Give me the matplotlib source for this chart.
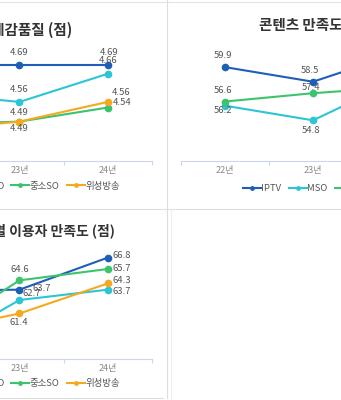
import matplotlib
matplotlib.use("Agg")
import matplotlib.pyplot as plt

plt.rcParams["font.family"] = ["Noto Sans CJK KR", "DejaVu Sans"]

W, H = 341, 400

categories = ["22년", "23년", "24년"]

# 방송서비스 체감품질 (점)
quality_iptv = [4.69, 4.69, 4.69]
quality_mso = [4.59, 4.56, 4.66]
quality_small_so = [4.48, 4.49, 4.54]
quality_sat = [4.46, 4.49, 4.56]

# 콘텐츠 만족도
content_iptv = [59.9, 58.5, 61.3]
content_mso = [56.2, 54.8, 58.8]
content_small_so = [56.6, 57.4, 58.0]

# 이용자 만족도 (점)
satis_iptv = [63.6, 63.7, 66.8]
satis_mso = [57.8, 62.7, 63.7]
satis_small_so = [59.1, 64.6, 65.7]
satis_sat = [59.6, 61.4, 64.3]

COLORS = {
    "IPTV": "#1f5eb8",
    "MSO": "#2cc5d5",
    "중소SO": "#3cc46c",
    "위성방송": "#f6a91f",
}

# label offsets in pixels (dx, dy screen-down, ha) per point
OFFS_QUALITY = {
    "IPTV": [(0, -13, "center"), (0, -13, "center"), (1, -13, "center")],
    "MSO": [(0, -12, "center"), (0, -12, "center"), (0, -13, "center")],
    "중소SO": [(0, 8, "center"), (0, 7, "center"), (5, -5, "left")],
    "위성방송": [(0, -10, "center"), (0, -9, "center"), (13, -9, "center")],
}
OFFS_CONTENT = {
    "IPTV": [(-2, -12, "center"), (-3, -11, "center"), (0, -12, "center")],
    "MSO": [(-2, 5, "center"), (-2, 10, "center"), (0, 10, "center")],
    "중소SO": [(-2, -11, "center"), (-2, -6, "center"), (0, -10, "center")],
}
OFFS_SATIS = {
    "IPTV": [(0, -11, "center"), (13, -1, "left"), (5, -2, "left")],
    "MSO": [(0, 9, "center"), (3, -7, "left"), (5, 2, "left")],
    "중소SO": [(0, -11, "center"), (0, -11, "center"), (5, 0, "left")],
    "위성방송": [(0, 9, "center"), (-1, 9, "center"), (5, -3, "left")],
}


def px_axes(fig, left, top, right, bottom):
    return fig.add_axes([left / W, 1 - bottom / H, (right - left) / W, (bottom - top) / H])


def draw_panel(ax, series, offsets, ylim, legend_y):
    x = range(len(categories))
    for name, vals in series:
        ax.plot(x, vals, color=COLORS[name], lw=1.5, marker="o", ms=4.5,
                label=name, clip_on=False, zorder=3)
        for i, v in enumerate(vals):
            dx, dy, ha = offsets[name][i]
            ax.annotate(f"{v:.2f}" if v < 10 else f"{v:.1f}", (i, v),
                        xytext=(dx, -dy), textcoords="offset pixels",
                        ha=ha, va="center", fontsize=6.8, color="#555555",
                        zorder=4, annotation_clip=False)
    ax.set_xlim(-0.5, 2.5)
    ax.set_ylim(*ylim)
    ax.set_facecolor("none")
    for s in ("left", "right", "top"):
        ax.spines[s].set_visible(False)
    ax.spines["bottom"].set_color("#ccd6eb")
    ax.spines["bottom"].set_linewidth(0.8)
    ax.set_yticks([])
    ax.set_xticks(list(x))
    ax.set_xticklabels(categories, fontsize=6.5, color="#888888")
    ax.tick_params(axis="x", which="major", length=0, pad=3.5)
    ax.set_xticks([-0.5, 0.5, 1.5, 2.5], minor=True)
    ax.tick_params(axis="x", which="minor", length=3, color="#ccd6eb", width=0.8)
    ax.legend(loc="center", bbox_to_anchor=(0.5, legend_y), ncol=len(series),
              frameon=False, fontsize=6.8, handlelength=1.9, handletextpad=0.1,
              columnspacing=0.75, markerscale=0.55, labelcolor="#555555")


fig = plt.figure(figsize=(W / 100, H / 100), dpi=100)

# card borders
bg = fig.add_axes([0, 0, 1, 1], zorder=-1)
bg.set_xlim(0, W)
bg.set_ylim(H, 0)
bg.axis("off")
bg.plot([0, W], [1.5, 1.5], color="#e2e2e2", lw=0.8)
bg.plot([166.5, 166.5], [0, 398], color="#dddddd", lw=0.8)
bg.plot([0, W], [208.5, 208.5], color="#dddddd", lw=0.8)
bg.plot([0, 163], [398, 398], color="#dddddd", lw=0.8)
bg.plot([171, 171], [209, H], color="#eeeeee", lw=0.8)

title_style = dict(va="center", fontweight="bold", color="#333333")

ax_a = px_axes(fig, -113, 40, 152, 161)
draw_panel(ax_a,
           [("IPTV", quality_iptv), ("MSO", quality_mso),
            ("중소SO", quality_small_so), ("위성방송", quality_sat)],
           OFFS_QUALITY, (4.35, 4.78), -0.207)
fig.text(72 / W, 1 - 30 / H, "방송서비스 체감품질 (점)", ha="right", fontsize=10.5,
         **title_style)

ax_b = px_axes(fig, 181, 40, 445, 161)
draw_panel(ax_b,
           [("IPTV", content_iptv), ("MSO", content_mso),
            ("중소SO", content_small_so)],
           OFFS_CONTENT, (50.9, 62.5), -0.231)
fig.text(259 / W, 1 - 25 / H, "콘텐츠 만족도 (점)", ha="left", fontsize=10.5,
         **title_style)

ax_c = px_axes(fig, -113, 240, 152, 359)
draw_panel(ax_c,
           [("IPTV", satis_iptv), ("MSO", satis_mso),
            ("중소SO", satis_small_so), ("위성방송", satis_sat)],
           OFFS_SATIS, (57.0, 68.5), -0.206)
fig.text(115 / W, 1 - 231 / H, "플랫폼별 이용자 만족도 (점)", ha="right", fontsize=10,
         **title_style)

fig.savefig("out.png", dpi=100)
